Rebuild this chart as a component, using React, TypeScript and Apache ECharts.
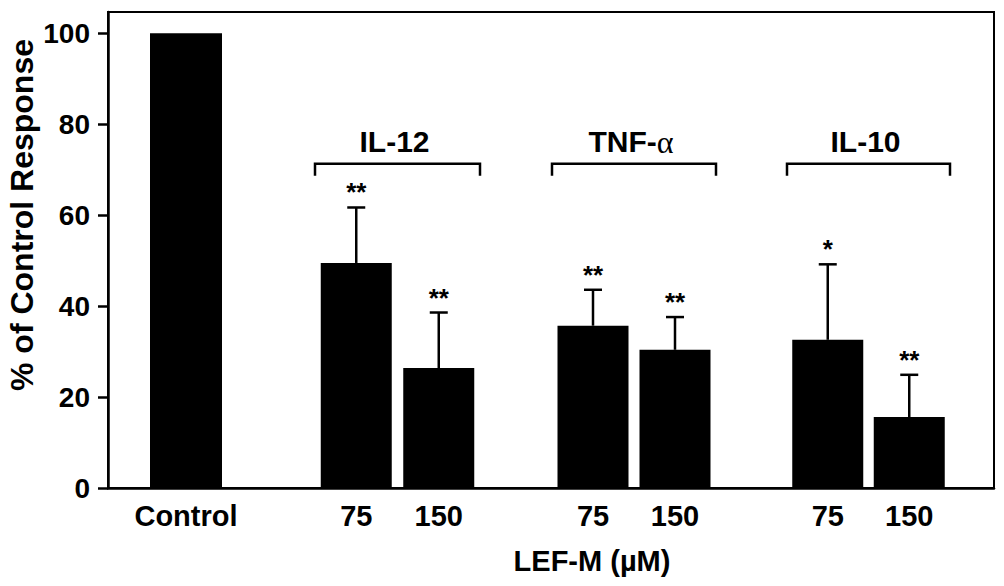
import React, { useEffect, useRef } from "react";
import * as echarts from "echarts";

const controlCategory = ["Control"];
const doseLabels = ["75", "150"];
const groupNames = ["IL-12", "TNF-α", "IL-10"];
const controlValue = [100];
const il12Values = [49.5, 26.4];
const il12Errors = [12.2, 12.2];
const il12Stars = ["**", "**"];
const tnfValues = [35.7, 30.4];
const tnfErrors = [7.9, 7.2];
const tnfStars = ["**", "**"];
const il10Values = [32.6, 15.6];
const il10Errors = [16.6, 9.3];
const il10Stars = ["*", "**"];
const bracketLevel = 71.3;
const yTicks = [0, 20, 40, 60, 80, 100];
const yMax = 104.7;

const FONT = "'Liberation Sans', Arial, Helvetica, sans-serif";

export default function App() {
  const ref = useRef<HTMLDivElement>(null);
  useEffect(() => {
    document.body.style.margin = "0";
    if (!ref.current) return;
    const chart = echarts.init(ref.current, undefined, { renderer: "svg" });

    const top = 12;
    const height = 476;
    const subGrids = [
      { left: 145, width: 82 },
      { left: 315, width: 165 },
      { left: 552, width: 164 },
      { left: 787, width: 163 },
    ];
    const grids: any[] = [
      { left: 108, top, width: 886, height, show: true, borderColor: "#000", borderWidth: 2, backgroundColor: "transparent" },
      ...subGrids.map((g) => ({ left: g.left, width: g.width, top, height, show: false })),
    ];

    const xAxes: any[] = [
      {
        type: "value",
        gridIndex: 0,
        min: 0,
        max: 1,
        axisLine: { show: true, lineStyle: { color: "#000", width: 2.5 } },
        axisTick: { show: false },
        axisLabel: { show: false },
        splitLine: { show: false },
      },
    ];
    const catData = [controlCategory, doseLabels, doseLabels, doseLabels];
    catData.forEach((d, i) => {
      xAxes.push({
        type: "category",
        gridIndex: i + 1,
        data: d,
        axisLine: { show: false },
        axisTick: { show: false },
        axisLabel: { fontSize: 29, fontWeight: "bold", color: "#000", fontFamily: FONT, margin: 13 },
        splitLine: { show: false },
      });
    });

    const yAxes: any[] = [
      {
        type: "value",
        gridIndex: 0,
        min: 0,
        max: yMax,
        axisLine: { show: true, lineStyle: { color: "#000", width: 2.5 } },
        axisTick: { show: true, inside: false, length: 10, customValues: yTicks, lineStyle: { color: "#000", width: 2.5 } },
        axisLabel: { customValues: yTicks, fontSize: 28, fontWeight: "bold", color: "#000", fontFamily: FONT, margin: 18 },
        splitLine: { show: false },
      },
    ];
    for (let i = 1; i <= 4; i++) {
      yAxes.push({ type: "value", gridIndex: i, min: 0, max: yMax, show: false, splitLine: { show: false } });
    }

    const groups = [
      { values: il12Values, errors: il12Errors, stars: il12Stars },
      { values: tnfValues, errors: tnfErrors, stars: tnfStars },
      { values: il10Values, errors: il10Errors, stars: il10Stars },
    ];

    const series: any[] = [
      {
        type: "bar",
        xAxisIndex: 1,
        yAxisIndex: 1,
        data: controlValue,
        barWidth: 72,
        itemStyle: { color: "#000" },
      },
    ];

    groups.forEach((g, gi) => {
      const axisIdx = gi + 2;
      series.push({
        type: "bar",
        xAxisIndex: axisIdx,
        yAxisIndex: axisIdx,
        data: g.values,
        barWidth: 71,
        itemStyle: { color: "#000" },
      });
      series.push({
        type: "custom",
        xAxisIndex: axisIdx,
        yAxisIndex: axisIdx,
        z: 5,
        data: g.values.map((v, i) => [i, v, g.errors[i]]),
        renderItem: (params: any, api: any) => {
          const idx = api.value(0);
          const val = api.value(1);
          const err = api.value(2);
          const base = api.coord([idx, val]);
          const tp = api.coord([idx, val + err]);
          return {
            type: "group",
            children: [
              { type: "line", shape: { x1: base[0], y1: base[1], x2: tp[0], y2: tp[1] }, style: { stroke: "#000", lineWidth: 2.5 } },
              { type: "line", shape: { x1: tp[0] - 9, y1: tp[1], x2: tp[0] + 9, y2: tp[1] }, style: { stroke: "#000", lineWidth: 2.5 } },
              {
                type: "text",
                x: tp[0],
                y: tp[1] - 15,
                style: {
                  text: g.stars[params.dataIndex],
                  fontSize: 26,
                  fontWeight: "bold",
                  fontFamily: FONT,
                  fill: "#000",
                  align: "center",
                  verticalAlign: "middle",
                },
              },
            ],
          };
        },
      });
      series.push({
        type: "custom",
        xAxisIndex: axisIdx,
        yAxisIndex: axisIdx,
        z: 5,
        data: [[0, bracketLevel]],
        renderItem: (params: any, api: any) => {
          const cs = params.coordSys;
          const y = api.coord([0, api.value(1)])[1];
          const x1 = cs.x;
          const x2 = cs.x + cs.width;
          const name = groupNames[gi];
          const isTnf = name.indexOf("α") >= 0;
          const textStyle: any = isTnf
            ? {
                text: "{b|TNF-}{a|α}",
                rich: {
                  b: { fontSize: 30, fontWeight: "bold", fontFamily: FONT, fill: "#000", color: "#000" },
                  a: { fontSize: 32, fontWeight: "normal", fontFamily: "'Liberation Serif', 'DejaVu Serif', serif", fill: "#000", color: "#000" },
                },
                align: "center",
                verticalAlign: "middle",
              }
            : {
                text: name,
                fontSize: 30,
                fontWeight: "bold",
                fontFamily: FONT,
                fill: "#000",
                align: "center",
                verticalAlign: "middle",
              };
          return {
            type: "group",
            children: [
              {
                type: "polyline",
                shape: { points: [[x1, y + 12], [x1, y], [x2, y], [x2, y + 12]] },
                style: { stroke: "#000", lineWidth: 2.5, fill: "none" },
              },
              { type: "text", x: (x1 + x2) / 2 - 3, y: y - 22, style: textStyle },
            ],
          };
        },
      });
    });

    chart.setOption({
      animation: false,
      backgroundColor: "#fff",
      grid: grids,
      xAxis: xAxes,
      yAxis: yAxes,
      series,
      graphic: [
        {
          type: "text",
          x: 22,
          y: 215,
          rotation: Math.PI / 2,
          style: {
            text: "% of Control Response",
            fontSize: 32,
            fontWeight: "bold",
            fontFamily: FONT,
            fill: "#000",
            align: "center",
            verticalAlign: "middle",
          },
        },
        {
          type: "text",
          x: 592,
          y: 561,
          style: {
            text: "LEF-M (µM)",
            fontSize: 29,
            fontWeight: "bold",
            fontFamily: FONT,
            fill: "#000",
            align: "center",
            verticalAlign: "middle",
          },
        },
      ],
    });
    return () => chart.dispose();
  }, []);
  return <div ref={ref} style={{ width: 1004, height: 586 }} />;
}
